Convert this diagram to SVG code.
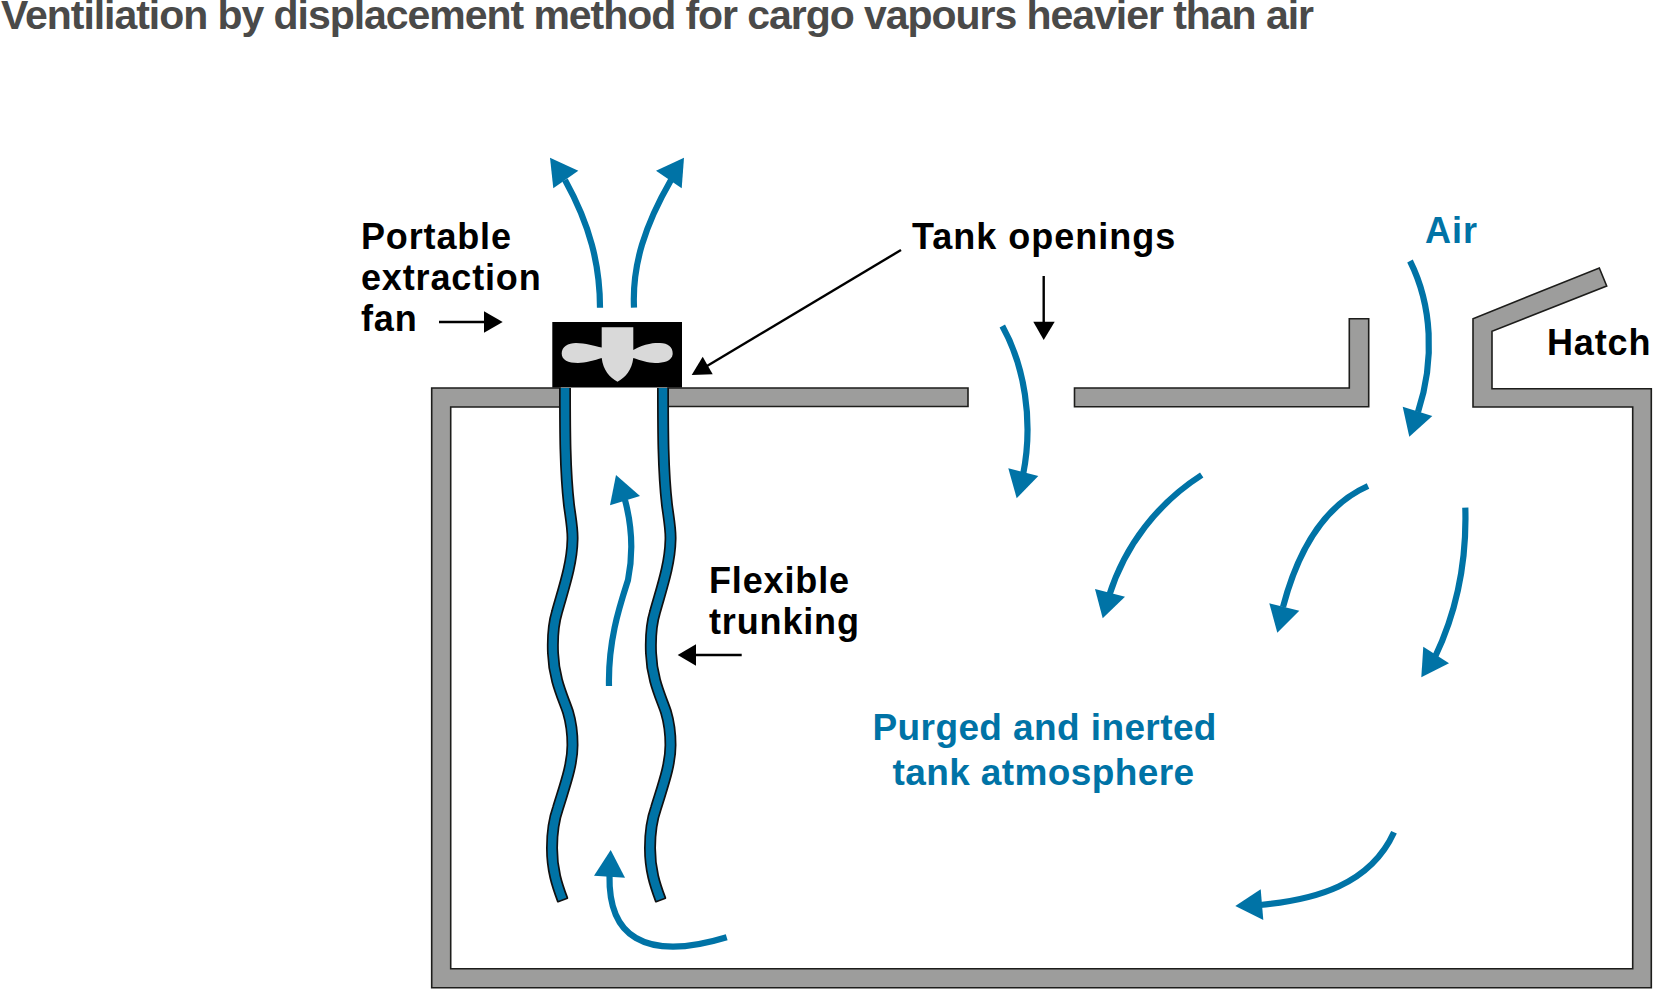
<svg xmlns="http://www.w3.org/2000/svg" xmlns:xlink="http://www.w3.org/1999/xlink" width="1653" height="989" viewBox="0 0 1653 989">
<style>
text{font-family:"Liberation Sans",Arial,sans-serif;font-weight:700}
.title{font-size:41px;fill:#4a4a49}
.lbl{font-size:36px;fill:#000;letter-spacing:.85px}
.blue{font-size:37px;fill:#0073a6;letter-spacing:.4px}
.wall{fill:#9d9d9c;stroke:#1d1d1b;stroke-width:1.6}
.tb{fill:none;stroke:#111;stroke-width:12}
.ti{fill:none;stroke:#0073a6;stroke-width:8.6}
.tc{fill:none;stroke:#111;stroke-width:1.6}
.flow{fill:none;stroke:#0073a6;stroke-width:6.2}
.fh{fill:#0073a6}
.pl{fill:none;stroke:#000;stroke-width:2.4}
.ph{fill:#000}
</style>
<defs>
<path id="tr" d="M565,388 C565,430 565,470 569,505 C571,520 573,530 572.5,540 C572,565 563,590 557,612 C553,625 552.5,640 553,653 C554,680 563,697 568,712 C571,722 572.5,735 572.5,745 C572.5,765 565,785 558,808 C553,822 552,838 552,848 C552,870 557,885 562.7,900"/>
</defs>
<rect width="1653" height="989" fill="#fff"/>
<text id="title" class="title" x="1" y="28.5" textLength="1313" lengthAdjust="spacing">Ventiliation by displacement method for cargo vapours heavier than air</text>
<g id="tank">
<path class="wall" d="M560,388 H431.7 V987.7 H1651.3 V388.7 H1492 V331.3 L1606.7,286 L1599.3,268 L1473,318.7 V407 H1632.7 V968.7 H450.7 V407 H560Z"/>
<path class="wall" d="M668,388 H968 V406.5 H668Z"/>
<path class="wall" d="M1074.5,388 H1349.3 V318.7 H1368.7 V406.7 H1074.5Z"/>
</g>
<g id="trunking">
<use xlink:href="#tr" class="tb"/><use xlink:href="#tr" class="ti"/>
<path class="tc" d="M557.4,902.1 L568,898"/>
<use xlink:href="#tr" class="tb" x="98"/><use xlink:href="#tr" class="ti" x="98"/>
<path class="tc" d="M655.4,902.1 L666,898"/>
</g>
<g id="fan">
<rect x="552.3" y="322" width="129.7" height="65.5" fill="#000"/>
<path fill="#d9d9d9" d="M601.7,327.3 H633.3 V350 C645,343 655,343 660,343 C668,343 673,347 672.7,354 C672,361 664,363 655,363 C648,363 640,360 633.3,358 C632,370 625,378 617.5,381.7 C610,378 603,370 601.7,358 C595,360 585,363 578,363 C568,363 561.7,360 561.7,353.5 C561.7,347 568,343 576,343 C585,343 595,346 601.7,347.5Z"/>
</g>
<g id="connectors">
<path class="flow" d="M600,307.7 C600,265 590,225 565,180"/><polygon class="fh" points="550,157.7 578.3,170.7 553.3,188.3"/>
<path class="flow" d="M634,307.7 C632,265 645,225 671,180"/><polygon class="fh" points="684,157.7 656,170.7 681.7,188.3"/>
<path class="flow" d="M1410,261 C1432,305 1435,360 1418,412"/><polygon class="fh" points="1409.3,436.7 1402.7,406.7 1432.3,416"/>
<path class="flow" d="M1002.3,326 C1024,365 1034,420 1023,475"/><polygon class="fh" points="1016.7,498.3 1008.3,468.3 1038.3,476"/>
<path class="flow" d="M1201.7,475 C1158,503 1125,545 1109,596"/><polygon class="fh" points="1102.7,618.3 1095,589 1125,596.7"/>
<path class="flow" d="M1368,486 C1325,505 1298,550 1283,607"/><polygon class="fh" points="1277.3,632.7 1269.3,603.3 1299.3,610.7"/>
<path class="flow" d="M1465.3,507.7 C1467,565 1455,615 1435,657"/><polygon class="fh" points="1421.3,677.3 1423.3,646.7 1449,663.3"/>
<path class="flow" d="M1394,832.3 C1370,885 1315,900 1260,905"/><polygon class="fh" points="1235.3,906 1260.7,889.3 1263.3,920"/>
<path class="flow" d="M726.7,937.3 C695,947 660,952 636,938 C615,926 609,900 609.5,875"/><polygon class="fh" points="610.7,850 594,875.7 625,877.7"/>
<path class="flow" d="M609,686 C608,640 620,605 628,580 C633,555 633,530 625,500"/><polygon class="fh" points="616,475 610,505.3 640,496"/>
<path class="pl" d="M439,322 H486"/><polygon class="ph" points="502.7,322 484,311.3 484,332.7"/>
<path class="pl" d="M901,250 L707,366"/><polygon class="ph" points="691.7,375 702.7,356.7 712.7,374.3"/>
<path class="pl" d="M1043.7,276 V323"/><polygon class="ph" points="1043.7,340 1033.3,321.7 1054.7,321.7"/>
<path class="pl" d="M741.7,655 H694"/><polygon class="ph" points="677.7,655 696,644.3 696,665.7"/>
</g>
<g id="labels">
<text class="lbl" x="361" y="249.3">Portable</text>
<text class="lbl" x="361" y="290.3">extraction</text>
<text class="lbl" x="361" y="331.3">fan</text>
<text class="lbl" x="912" y="249.3" style="letter-spacing:1px">Tank openings</text>
<text class="blue" x="1425" y="242.7" style="font-size:36px;letter-spacing:1px">Air</text>
<text class="lbl" x="1547" y="355">Hatch</text>
<text class="lbl" x="709" y="592.7">Flexible</text>
<text class="lbl" x="709" y="634">trunking</text>
<text class="blue" x="872.5" y="740">Purged and inerted</text>
<text class="blue" x="892.5" y="785">tank atmosphere</text>
</g>
</svg>
